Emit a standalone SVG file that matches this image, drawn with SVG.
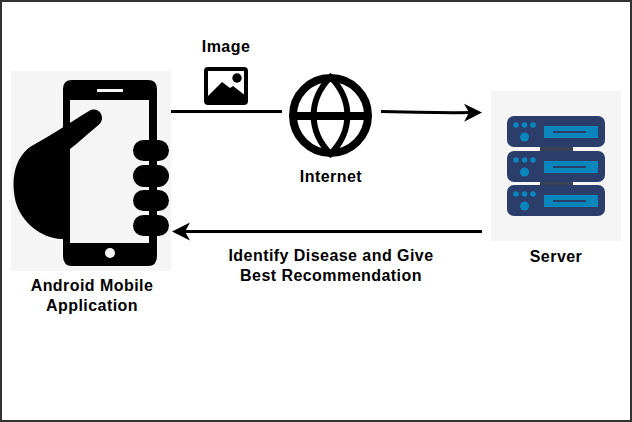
<svg xmlns="http://www.w3.org/2000/svg" width="632" height="422" viewBox="0 0 632 422">
<style>
.t{font-family:"Liberation Sans",Arial,sans-serif;font-size:16px;font-weight:bold;fill:#000;text-anchor:middle;letter-spacing:.45px}
.bg{fill:#f5f5f5}
.k{fill:#000}
.rack{fill:#2b3d6b}
.bar{fill:#0b86bd}
.dot{fill:#0b86bd}
.c{fill:none;stroke:#000;stroke-width:3}
</style>
<defs>
<marker id="ah" markerUnits="userSpaceOnUse" markerWidth="19" markerHeight="20" refX="14" refY="9.500" orient="auto"><path d="M0 .5L18 9.500L0 18.500L5 9.500Z" fill="#000"/></marker>
<g id="rk">
<rect class="rack" x="507" y="116" width="98" height="31" rx="7"/>
<rect class="bar" x="544" y="126" width="54" height="12"/>
<rect x="553" y="131" width="33" height="2" fill="#2b3d6b"/>
<circle class="dot" cx="516" cy="125" r="2.800"/><circle class="dot" cx="524.500" cy="125" r="2.800"/><circle class="dot" cx="533" cy="125" r="2.800"/>
<circle class="dot" cx="524.500" cy="137" r="4.500"/>
</g>
</defs>
<rect width="632" height="422" fill="#fff"/>
<rect x="1" y="1" width="630" height="420" fill="none" stroke="#333" stroke-width="2"/>
<g id="connectors">
<path class="c" d="M171 111.500H282"/>
<path class="c" d="M381 111.500Q430 113 478 112.500" marker-end="url(#ah)"/>
<path class="c" d="M482 231.500H176" marker-end="url(#ah)"/>
</g>
<g id="phone">
<rect class="bg" x="11" y="71" width="160" height="200"/>
<path class="k" fill-rule="evenodd" d="M72 80H148Q157 80 157 89V256Q157 266 148 266H72Q63 266 63 256V89Q63 80 72 80ZM70 100V243H149V100Z"/>
<rect x="97" y="89" width="26" height="3" fill="#f5f5f5"/>
<circle cx="110" cy="253" r="5" fill="#f5f5f5"/>
<path class="k" d="M70 239H62C40 238 22 222 16 203C11 182 13 160 30 147C48 137 68 124 89 111C96 107 102 112 102 118C102 122 99 125 95 128C86 135 78 143 70 149Z"/>
<rect class="k" x="133" y="140" width="36" height="21" rx="10.500"/>
<rect class="k" x="133" y="165" width="36" height="22" rx="11"/>
<rect class="k" x="133" y="190" width="36" height="21" rx="10.500"/>
<rect class="k" x="133" y="215" width="36" height="21" rx="10.500"/>
<text class="t" x="92" y="291">Android Mobile</text>
<text class="t" x="92" y="311">Application</text>
</g>
<g id="image">
<text class="t" x="226" y="52">Image</text>
<rect x="206" y="69" width="40" height="34" rx="2" fill="#fff" stroke="#000" stroke-width="4"/>
<path class="k" d="M207 100V97L222 82L230 88L233 86L246 96V103H207Z"/>
<circle class="k" cx="237" cy="78" r="4.700"/>
</g>
<g id="internet">
<circle cx="330.500" cy="115.500" r="37.500" fill="#fff" stroke="#000" stroke-width="8"/>
<path d="M330.500 77C308 100 308 131 330.500 154C353 131 353 100 330.500 77Z" fill="none" stroke="#000" stroke-width="6"/>
<rect x="293" y="112" width="75" height="8" class="k"/>
<text class="t" x="331" y="182">Internet</text>
</g>
<g id="server">
<rect class="bg" x="491" y="91" width="130" height="150"/>
<rect x="540" y="145" width="33" height="7" fill="#3a4356"/>
<rect x="540" y="180" width="33" height="6" fill="#3a4356"/>
<use href="#rk"/>
<use href="#rk" y="35"/>
<use href="#rk" y="69"/>
<text class="t" x="556" y="262">Server</text>
</g>
<g id="result-label">
<text class="t" x="331" y="261">Identify Disease and Give</text>
<text class="t" x="331" y="281">Best Recommendation</text>
</g>
</svg>
